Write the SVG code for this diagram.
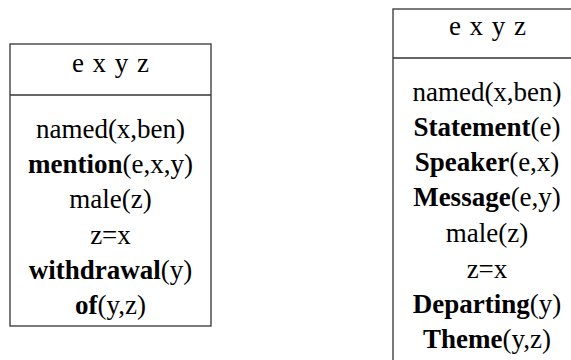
<svg xmlns="http://www.w3.org/2000/svg" width="571" height="360" viewBox="0 0 571 360">
  <style>
    .box { fill: #ffffff; stroke: #333333; stroke-width: 1.3; }
    .sep { stroke: #333333; stroke-width: 1.3; }
    .t { font-family: 'Liberation Serif', 'Times New Roman', serif; font-size: 27px; fill: #000000; text-anchor: middle; }
    .hd { letter-spacing: 1px; }
    .b { font-weight: bold; }
  </style>
  <rect width="571" height="360" fill="#ffffff"/>

  <!-- DRS 1: mention / withdrawal -->
  <g id="drs-left">
    <rect class="box" x="10" y="44" width="201" height="282"/>
    <line class="sep" x1="10" y1="95" x2="211" y2="95"/>
    <text class="t hd" x="111" y="72">e x y z</text>
    <text class="t" x="110.5" y="138">named(x,ben)</text>
    <text class="t" x="110.5" y="173"><tspan class="b">mention</tspan>(e,x,y)</text>
    <text class="t" x="110.5" y="208">male(z)</text>
    <text class="t" x="110.5" y="244">z=x</text>
    <text class="t" x="110.5" y="279"><tspan class="b">withdrawal</tspan>(y)</text>
    <text class="t" x="110.5" y="314"><tspan class="b">of</tspan>(y,z)</text>
  </g>

  <!-- DRS 2: Statement / Departing -->
  <g id="drs-right">
    <rect class="box" x="393" y="9" width="190" height="360"/>
    <line class="sep" x1="393" y1="58" x2="583" y2="58"/>
    <text class="t hd" x="488" y="35">e x y z</text>
    <text class="t" x="487" y="101">named(x,ben)</text>
    <text class="t" x="487" y="136"><tspan class="b">Statement</tspan>(e)</text>
    <text class="t" x="487" y="171"><tspan class="b">Speaker</tspan>(e,x)</text>
    <text class="t" x="487" y="206"><tspan class="b">Message</tspan>(e,y)</text>
    <text class="t" x="487" y="242">male(z)</text>
    <text class="t" x="487" y="278">z=x</text>
    <text class="t" x="487" y="313"><tspan class="b">Departing</tspan>(y)</text>
    <text class="t" x="487" y="348"><tspan class="b">Theme</tspan>(y,z)</text>
  </g>
</svg>
